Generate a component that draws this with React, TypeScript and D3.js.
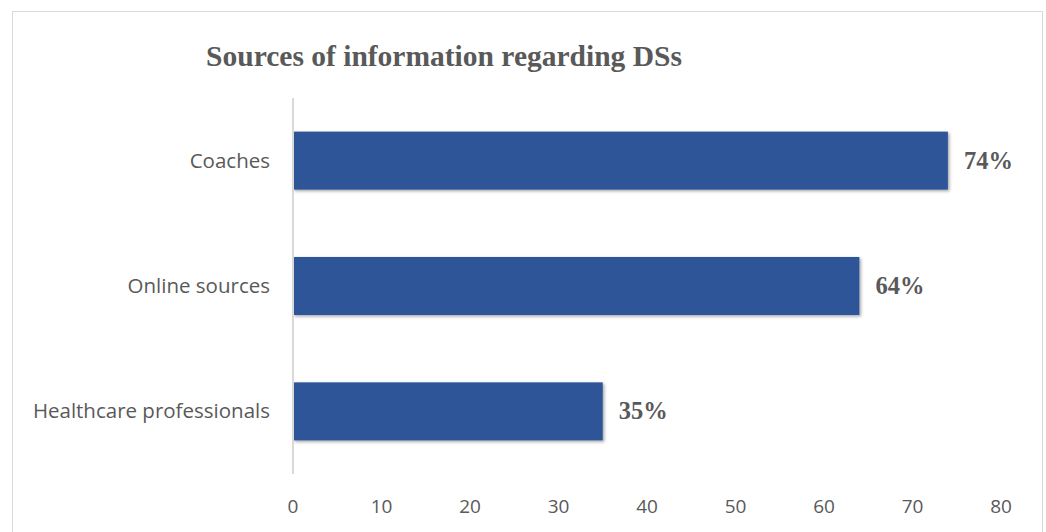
import React from "react";
import * as d3 from "d3";

const categories = ["Coaches", "Online sources", "Healthcare professionals"];
const values = [74, 64, 35];
const valueLabels = ["74%", "64%", "35%"];
const xTicks = [0, 10, 20, 30, 40, 50, 60, 70, 80];
const title = "Sources of information regarding DSs";

export default function App() {
  const W = 1046, H = 532;
  const x = d3.scaleLinear().domain([0, 80]).range([293, 1001]);
  const y = d3.scaleBand<string>().domain(categories).range([98, 474]).paddingInner(0.537).paddingOuter(0.268);
  const textColor = "#595959";
  return (
    <svg width={W} height={H} style={{ position: "absolute", left: 0, top: 0 }}>
      <defs>
        <filter id="sh" x="-5%" y="-20%" width="110%" height="150%">
          <feDropShadow dx="1.5" dy="1.5" stdDeviation="1.5" floodColor="#000" floodOpacity="0.35" />
        </filter>
      </defs>
      <rect x={0} y={0} width={W} height={H} fill="#fff" />
      <rect x={12.5} y={11.5} width={1030} height={540} fill="#fff" stroke="#d9d9d9" strokeWidth={1} />
      <text x={444} y={66} textAnchor="middle" fontFamily="Liberation Serif, Times New Roman, serif" fontWeight="bold" fontSize={29.5} fill={textColor}>{title}</text>
      {categories.map((c, i) => (
        <g key={c}>
          <rect x={x(0)} y={y(c)!} width={x(values[i]) - x(0)} height={y.bandwidth()} fill="#2F5597" filter="url(#sh)" />
          <text x={x(values[i]) + 16} y={y(c)! + y.bandwidth() / 2 + 8} fontFamily="Liberation Serif, Times New Roman, serif" fontWeight="bold" fontSize={24.5} fill={textColor}>{valueLabels[i]}</text>
          <text x={270} y={y(c)! + y.bandwidth() / 2 + 7} textAnchor="end" fontFamily="Open Sans, sans-serif" fontSize={20.5} fill={textColor}>{c}</text>
        </g>
      ))}
      <line x1={x(0)} x2={x(0)} y1={98} y2={474} stroke="#d9d9d9" strokeWidth={2} />
      {xTicks.map(t => (
        <text key={t} x={x(t)} y={513} textAnchor="middle" fontFamily="Open Sans, sans-serif" fontSize={19} fill={textColor}>{t}</text>
      ))}
    </svg>
  );
}
